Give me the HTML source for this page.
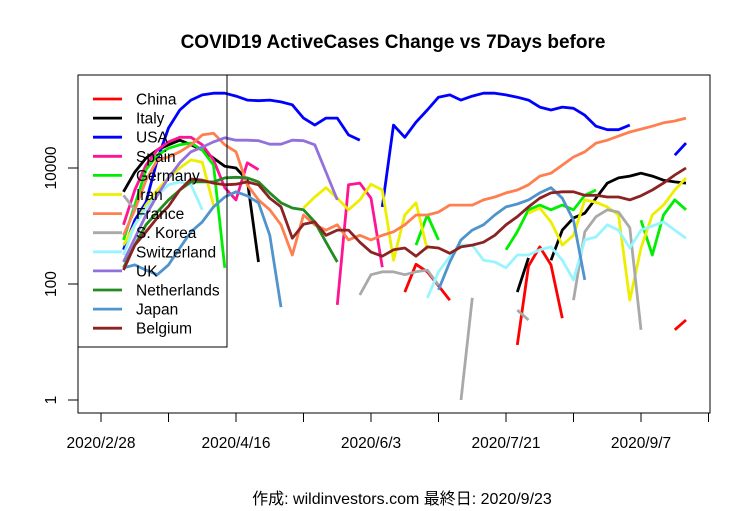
<!DOCTYPE html>
<html><head><meta charset="utf-8"><style>
body{margin:0;background:#fff;}
svg{display:block;font-family:"Liberation Sans","Noto Sans CJK JP",sans-serif;}
</style></head><body>
<svg id="chart" width="750" height="511" viewBox="0 0 750 511">
<rect width="750" height="511" fill="#fff"/>
<text x="393" y="48" text-anchor="middle" font-size="19" font-weight="bold">COVID19 ActiveCases Change vs 7Days before</text>
<text x="402" y="504" text-anchor="middle" font-size="16">作成: wildinvestors.com 最終日: 2020/9/23</text>
<g id="axes"></g>
<g id="series"></g>
<g id="legend"></g>
</svg>
<script>
// log10 of weekly active case change, sampled every 4 days starting 2020/2/28
const n=null;
const xTickLabels=["2020/2/28","2020/4/16","2020/6/3","2020/7/21","2020/9/7"];
const xTickDays=[0,48,96,144,192];
const yTickValues=[1,100,10000];
const yTickLabels=["1","100","10000"];
const sampleStepDays=4;
const countries=["China","Italy","USA","Spain","Germany","Iran","France","S. Korea","Switzerland","UK","Netherlands","Japan","Belgium"];
const colors=["#FF0000","#000000","#0000FF","#FF1493","#00EE00","#EEEE00","#FF7F50","#A9A9A9","#98F5FF","#9370DB","#228B22","#4F94CD","#8B2323"];
const china=[n,n,n,n,n,n,n,n,n,n,n,n,n,n,n,n,n,n,n,n,n,n,n,n,n,n,n,1.86,2.34,2.21,1.97,1.72,n,n,n,n,n,0.95,2.31,2.64,2.33,1.41,n,n,n,n,n,n,n,n,n,1.21,1.38];
const italy=[n,n,3.59,3.93,4.17,4.31,4.40,4.48,4.40,4.31,4.17,4.03,4.00,3.79,2.38,n,n,n,n,n,n,n,n,n,n,n,n,n,n,n,n,n,n,n,n,n,n,1.86,2.45,n,2.41,2.93,3.14,3.22,3.48,3.74,3.83,3.86,3.91,3.86,3.79,3.76,3.74];
const usa=[n,n,2.59,3.10,3.41,4.14,4.69,5.00,5.17,5.26,5.29,5.29,5.24,5.17,5.16,5.17,5.14,5.09,4.86,4.74,4.86,4.86,4.57,4.48,n,3.33,4.74,4.53,4.79,5.00,5.22,5.26,5.17,5.24,5.29,5.29,5.26,5.22,5.17,5.05,5.00,5.05,5.03,4.91,4.72,4.66,4.66,4.74,n,n,n,4.22,4.43];
const spain=[n,n,3.02,3.62,4.05,4.31,4.45,4.53,4.53,4.40,4.14,3.66,3.45,4.09,3.97,n,n,n,n,n,n,1.64,3.71,3.74,3.48,2.29,n,n,n,n,n,n,n,n,n,n,n,n,n,n,n,n,n,n,n,n,n,n,n,n,n,n,n];
const germany=[n,n,2.76,3.36,3.97,4.22,4.34,4.40,4.43,4.31,4.05,2.28,n,n,n,n,n,n,n,n,n,n,n,n,n,n,n,n,2.67,3.19,2.76,n,n,n,n,n,2.59,2.90,3.28,3.36,3.28,3.36,3.28,3.53,3.62,n,n,n,3.10,2.50,3.19,3.45,3.28];
const iran=[n,n,2.67,3.02,3.36,3.62,3.83,4.00,4.14,4.10,3.36,n,n,n,n,n,n,n,3.31,3.50,3.66,3.48,3.28,3.45,3.72,3.62,2.41,3.19,3.40,2.59,n,n,n,n,n,n,n,n,3.22,3.31,3.07,2.67,2.84,3.45,3.41,3.33,3.19,1.72,2.62,3.19,3.36,3.62,3.83];
const france=[n,n,2.84,3.28,3.79,4.14,4.19,4.28,4.40,4.57,4.60,4.40,4.28,3.71,3.45,3.28,3.02,2.50,3.19,3.02,2.93,3.02,2.76,2.84,2.76,2.84,2.90,3.02,3.19,3.19,3.24,3.36,3.36,3.36,3.45,3.50,3.57,3.62,3.71,3.86,3.91,4.05,4.19,4.28,4.43,4.48,4.55,4.62,4.67,4.72,4.78,4.81,4.86];
const korea=[n,n,3.53,3.28,n,n,n,n,n,n,n,n,n,n,n,n,n,n,n,n,n,n,n,1.81,2.16,2.21,2.21,2.16,2.21,2.24,1.98,n,0.0,1.76,n,n,n,1.55,1.38,n,n,n,1.72,2.90,3.16,3.28,3.24,2.97,1.21,n,n,n,n];
const switzerland=[n,n,2.50,3.02,3.31,3.53,3.71,3.76,3.71,3.28,n,n,n,n,n,n,n,n,n,n,n,n,n,n,n,n,n,n,n,1.76,2.21,2.47,2.67,2.67,2.41,2.38,2.28,2.50,2.50,2.59,2.64,2.41,2.07,2.76,2.81,3.02,2.93,2.62,2.93,3.00,3.07,2.93,2.79];
const uk=[n,n,2.38,2.79,3.19,3.53,3.83,4.09,4.28,4.36,4.45,4.52,4.48,4.48,4.47,4.41,4.41,4.48,4.47,4.40,3.93,3.45,n,n,n,n,n,n,n,n,n,n,n,n,n,n,n,n,n,n,n,n,n,n,n,n,n,n,n,n,n,n,n];
const netherlands=[n,n,2.28,2.67,3.02,3.24,3.45,3.62,3.76,3.76,3.76,3.83,3.84,3.83,3.76,3.57,3.40,3.31,3.28,3.07,2.72,2.38,n,n,n,n,n,n,n,n,n,n,n,n,n,n,n,n,n,n,n,n,n,n,n,n,n,n,n,n,n,n,n];
const japan=[n,n,2.28,2.33,2.24,2.16,2.33,2.62,2.90,3.07,3.33,3.50,3.59,3.52,3.40,2.84,1.60,n,n,n,n,n,n,n,n,n,n,n,n,n,1.90,2.38,2.76,2.93,3.02,3.19,3.33,3.38,3.45,3.57,3.66,3.48,3.10,2.07,n,n,n,n,n,n,n,n,n];
const belgium=[n,n,2.24,2.67,2.90,3.14,3.34,3.62,3.81,3.79,3.74,3.71,3.72,3.76,3.71,3.48,3.33,2.79,3.03,3.07,2.84,2.93,2.93,2.72,2.55,2.48,2.59,2.62,2.48,2.64,2.62,2.53,2.64,2.67,2.72,2.84,3.02,3.16,3.33,3.48,3.57,3.59,3.59,3.53,3.53,3.50,3.50,3.45,3.52,3.62,3.74,3.88,4.00];
const seriesData=[china,italy,usa,spain,germany,iran,france,korea,switzerland,uk,netherlands,japan,belgium];

const NS="http://www.w3.org/2000/svg";
const plot={l:78,r:710,t:75,b:413};
function xScale(day){return 101+day*(135/48);}
function yScale(logv){return 400-logv*58;}
function mk(tag,attrs,parent){const e=document.createElementNS(NS,tag);for(const k in attrs)e.setAttribute(k,attrs[k]);parent.appendChild(e);return e;}

const axes=document.getElementById('axes');
const box=mk('rect',{x:plot.l,y:plot.t,width:plot.r-plot.l,height:plot.b-plot.t,fill:'none',stroke:'#000','stroke-width':1},axes);


xTickDays.forEach((d,i)=>{
  const x=xScale(d);
  const t=mk('line',{x1:x,x2:x,y1:plot.b,y2:plot.b+9,stroke:'#000'},axes);
  
  
  const lb=mk('text',{x:x,y:448,'text-anchor':'middle','font-size':15.5},axes);
  lb.textContent=xTickLabels[i];
  
  
  const xm=xScale(d+24);
  if(xm<plot.r){
    const m=mk('line',{x1:xm,x2:xm,y1:plot.b,y2:plot.b+9,stroke:'#000'},axes);
    
    
  }
});
yTickValues.forEach((v,i)=>{
  const y=yScale(Math.log10(v));
  const t=mk('line',{x1:plot.l-10,x2:plot.l,y1:y,y2:y,stroke:'#000'},axes);
  
  
  const lb=mk('text',{x:0,y:0,'text-anchor':'middle','font-size':15.5,transform:'translate(56 '+y+') rotate(-90)'},axes);
  lb.textContent=yTickLabels[i];
  
  
});

const sg=document.getElementById('series');
seriesData.forEach((arr,si)=>{
  let d='',pen=false;
  arr.forEach((v,k)=>{
    if(v===null){pen=false;return;}
    const x=xScale(k*sampleStepDays).toFixed(1),y=yScale(v).toFixed(1);
    d+=(pen?'L':'M')+x+' '+y+' ';pen=true;
  });
  const p=mk('path',{d:d,fill:'none',stroke:colors[si],'stroke-width':2.8,'stroke-linejoin':'round'},sg);
  
  
});

const lg=document.getElementById('legend');
const lbox=mk('rect',{x:78,y:75,width:149,height:272,fill:'none',stroke:'#000'},lg);


countries.forEach((c,i)=>{
  const y=99+i*19.1;
  const l=mk('line',{x1:93,x2:122,y1:y,y2:y,stroke:colors[i],'stroke-width':2.8},lg);
  
  
  const t=mk('text',{x:136,y:y+5.5,'font-size':15.5},lg);
  t.textContent=c;
  
  
});
</script>
</body></html>
